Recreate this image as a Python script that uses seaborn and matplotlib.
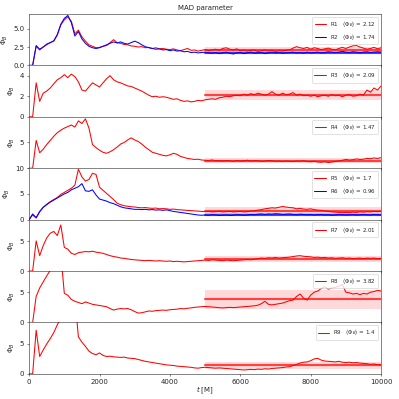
import numpy as np
import matplotlib
matplotlib.use("Agg")
import matplotlib.pyplot as plt
from matplotlib.lines import Line2D
import seaborn as sns

# time grid [M]
T = [0, 100, 200, 300, 400, 500, 600, 700, 800, 900,
     1000, 1100, 1200, 1300, 1400, 1500, 1600, 1700, 1800, 1900,
     2000, 2100, 2200, 2300, 2400, 2500, 2600, 2700, 2800, 2900,
     3000, 3100, 3200, 3300, 3400, 3500, 3600, 3700, 3800, 3900,
     4000, 4100, 4200, 4300, 4400, 4500, 4600, 4700, 4800, 4900,
     5000, 5100, 5200, 5300, 5400, 5500, 5600, 5700, 5800, 5900,
     6000, 6100, 6200, 6300, 6400, 6500, 6600, 6700, 6800, 6900,
     7000, 7100, 7200, 7300, 7400, 7500, 7600, 7700, 7800, 7900,
     8000, 8100, 8200, 8300, 8400, 8500, 8600, 8700, 8800, 8900,
     9000, 9100, 9200, 9300, 9400, 9500, 9600, 9700, 9800, 9900, 10000]

R1 = [0, 0, 2.6, 2.1, 2.5, 2.8, 3.1, 3.3, 4.1, 5.5,
      6.2, 6.6, 6.0, 4.3, 4.8, 3.9, 3.3, 2.8, 2.6, 2.4,
      2.45, 2.6, 2.7, 3.1, 3.5, 3.1, 3.0, 2.85, 2.8, 2.65,
      2.6, 2.5, 2.55, 2.4, 2.45, 2.3, 2.4, 2.25, 2.3, 2.2,
      2.15, 2.25, 2.1, 2.0, 2.15, 2.3, 2.05, 2.1, 1.95, 2.05,
      2.15, 2.0, 2.1, 2.2, 2.05, 2.3, 2.4, 2.2, 2.1, 2.25,
      2.0, 2.1, 1.95, 2.05, 2.1, 1.9, 2.0, 2.1, 1.95, 2.05,
      1.9, 2.0, 1.95, 2.05, 2.1, 2.35, 2.55, 2.4, 2.3, 2.45,
      2.2, 2.4, 2.3, 2.15, 2.25, 2.35, 2.2, 2.1, 2.3, 2.45,
      2.3, 2.5, 2.65, 2.7, 2.5, 2.35, 2.2, 2.3, 2.45, 2.25, 2.4]

R2 = [0, 0, 2.7, 2.2, 2.5, 2.9, 3.1, 3.35, 4.2, 5.6,
      6.4, 6.8, 5.8, 4.0, 4.6, 3.6, 3.0, 2.6, 2.4, 2.3,
      2.4, 2.6, 2.8, 3.0, 3.2, 3.05, 3.2, 3.0, 2.9, 3.1,
      3.3, 3.1, 2.8, 2.55, 2.4, 2.3, 2.2, 2.25, 2.1, 2.15,
      2.0, 2.1, 1.95, 2.0, 1.85, 1.9, 1.75, 1.8, 1.7, 1.75,
      1.8, 1.7, 1.65, 1.75, 1.6, 1.7, 1.8, 1.65, 1.55, 1.7,
      1.75, 1.6, 1.7, 1.8, 1.65, 1.7, 1.75, 1.6, 1.7, 1.8,
      1.7, 1.75, 1.65, 1.7, 1.75, 1.8, 1.7, 1.75, 1.65, 1.8,
      1.7, 1.75, 1.8, 1.7, 1.75, 1.85, 1.8, 1.75, 1.8, 1.9,
      1.8, 1.75, 1.85, 1.8, 1.7, 1.8, 1.85, 1.75, 1.8, 1.85, 1.8]

R3 = [0, 0, 3.3, 1.5, 2.3, 2.5, 2.8, 3.2, 3.6, 3.8,
      4.1, 3.8, 4.15, 3.9, 3.4, 2.6, 2.5, 2.9, 3.3, 3.1,
      2.9, 3.3, 3.7, 4.0, 3.6, 3.4, 3.3, 3.15, 3.0, 2.95,
      2.8, 2.65, 2.5, 2.3, 2.1, 1.95, 2.0, 1.9, 1.95, 1.9,
      1.8, 1.7, 1.75, 1.6, 1.5, 1.55, 1.45, 1.5, 1.6, 1.55,
      1.65, 1.7, 1.75, 1.7, 1.85, 1.9, 2.0, 1.95, 2.05, 2.1,
      2.05, 2.2, 2.1, 2.25, 2.15, 2.3, 2.2, 2.1, 2.2, 2.45,
      2.2, 2.1, 2.3, 2.15, 2.2, 2.35, 2.1, 2.2, 2.05, 2.1,
      2.0, 2.1, 1.95, 2.05, 2.1, 2.0, 2.15, 2.05, 2.1, 1.95,
      2.1, 2.15, 2.0, 2.05, 2.2, 2.1, 2.6, 2.4, 2.8, 2.6, 3.0]

R4 = [0, 0, 5.4, 3.0, 3.7, 4.6, 5.4, 6.2, 6.9, 7.4,
      7.8, 8.1, 8.4, 8.0, 9.2, 8.7, 9.6, 7.8, 4.6, 4.0,
      3.5, 3.1, 2.9, 3.2, 3.6, 4.1, 4.7, 5.0, 5.5, 5.9,
      5.5, 5.2, 4.7, 4.1, 3.6, 3.1, 2.9, 2.7, 2.5, 2.4,
      2.6, 2.9, 2.7, 2.3, 2.1, 1.9, 1.8, 1.7, 1.75, 1.6,
      1.55, 1.5, 1.6, 1.45, 1.5, 1.4, 1.5, 1.45, 1.35, 1.5,
      1.4, 1.45, 1.55, 1.4, 1.5, 1.45, 1.35, 1.4, 1.5, 1.45,
      1.35, 1.4, 1.3, 1.4, 1.35, 1.3, 1.4, 1.35, 1.45, 1.3,
      1.25, 1.35, 1.2, 1.15, 1.25, 1.1, 1.2, 1.3, 1.4, 1.55,
      1.7, 1.6, 1.65, 1.8, 1.7, 1.75, 1.9, 1.85, 2.0, 1.9, 2.05]

R5 = [0, 0.9, 0.3, 1.5, 2.4, 3.0, 3.5, 3.9, 4.3, 4.9,
      5.3, 5.7, 6.1, 6.7, 9.8, 8.3, 7.5, 7.8, 9.0, 8.8,
      6.3, 5.7, 5.1, 4.5, 3.9, 3.2, 2.9, 2.7, 2.6, 2.5,
      2.45, 2.35, 2.3, 2.35, 2.25, 2.2, 2.25, 2.1, 2.15, 2.1,
      2.0, 2.05, 1.95, 1.9, 1.85, 1.8, 1.75, 1.7, 1.65, 1.6,
      1.55, 1.6, 1.5, 1.55, 1.6, 1.5, 1.55, 1.6, 1.5, 1.55,
      1.6, 1.5, 1.55, 1.65, 1.7, 1.85, 1.95, 2.1, 2.2, 2.3,
      2.25, 2.4, 2.55, 2.45, 2.35, 2.3, 2.1, 2.2, 2.05, 2.0,
      2.1, 1.95, 1.85, 1.8, 1.7, 1.6, 1.5, 1.45, 1.4, 1.35,
      1.4, 1.35, 1.45, 1.4, 1.5, 1.45, 1.55, 1.5, 1.6, 1.55, 1.6]

R6 = [0, 1.1, 0.4, 1.6, 2.4, 2.9, 3.4, 3.8, 4.2, 4.6,
      5.0, 5.3, 5.8, 6.1, 6.4, 7.0, 5.6, 5.5, 5.8, 4.8,
      4.0, 3.8, 3.6, 3.3, 3.1, 2.8, 2.5, 2.3, 2.2, 2.1,
      2.0, 2.0, 1.95, 2.0, 1.9, 1.95, 1.85, 1.9, 1.8, 1.9,
      1.75, 1.6, 1.5, 1.4, 1.3, 1.2, 1.1, 1.0, 0.9, 0.85,
      0.9, 0.85, 0.95, 0.9, 0.8, 0.85, 0.9, 0.8, 0.85, 0.95,
      0.9, 0.85, 0.9, 1.0, 0.95, 1.05, 1.1, 1.0, 1.1, 1.05,
      1.15, 1.1, 1.0, 1.05, 1.1, 1.0, 0.95, 1.05, 1.0, 0.95,
      1.0, 0.9, 0.95, 1.0, 0.9, 0.95, 0.85, 0.9, 1.0, 0.95,
      0.9, 0.95, 1.0, 0.9, 0.95, 1.0, 0.95, 0.9, 1.0, 0.95, 0.9]

R7 = [0, 0, 5.1, 2.6, 4.3, 5.6, 6.4, 6.7, 6.0, 7.8,
      4.0, 3.7, 3.0, 2.8, 3.1, 3.2, 3.3, 3.25, 3.35, 3.2,
      3.1, 3.0, 2.8, 2.6, 2.45, 2.35, 2.2, 2.15, 2.05, 1.95,
      1.9, 1.85, 1.8, 1.75, 1.8, 1.75, 1.7, 1.75, 1.7, 1.65,
      1.7, 1.6, 1.65, 1.6, 1.55, 1.6, 1.65, 1.7, 1.75, 1.8,
      1.85, 1.8, 1.9, 1.85, 1.8, 1.75, 1.85, 1.8, 1.75, 1.8,
      1.85, 1.9, 1.95, 1.9, 2.0, 2.1, 2.2, 2.15, 2.25, 2.2,
      2.3, 2.2, 2.25, 2.3, 2.35, 2.45, 2.55, 2.6, 2.5, 2.45,
      2.4, 2.3, 2.35, 2.25, 2.3, 2.2, 2.25, 2.15, 2.2, 2.25,
      2.15, 2.2, 2.1, 2.15, 2.2, 2.1, 2.2, 2.15, 2.2, 2.1, 2.15]

R8 = [0, 0, 4.3, 5.7, 6.7, 7.7, 8.6, 9.6, 10.5, 11.3,
      4.8, 4.5, 3.8, 3.5, 3.3, 3.1, 3.4, 3.2, 3.0, 2.9,
      2.8, 2.7, 2.6, 2.3, 2.05, 2.2, 2.3, 2.25, 2.3, 2.1,
      1.8, 1.55, 1.6, 1.75, 1.9, 1.85, 1.95, 2.0, 2.05, 2.0,
      2.1, 2.15, 2.2, 2.3, 2.25, 2.35, 2.4, 2.5, 2.55, 2.6,
      2.65, 2.6, 2.55, 2.5, 2.45, 2.4, 2.45, 2.5, 2.45, 2.5,
      2.55, 2.6, 2.65, 2.7, 2.75, 2.85, 3.1, 3.5, 3.0, 2.9,
      3.0, 3.1, 3.2, 3.4, 3.6, 3.7, 4.3, 4.7, 4.0, 3.7,
      4.5, 5.0, 5.2, 5.6, 5.9, 5.5, 5.7, 5.8, 6.0, 6.3,
      5.0, 4.9, 4.7, 4.8, 4.6, 4.8, 4.7, 5.0, 5.1, 5.3, 5.2]

R9 = [0, 0, 7.3, 2.9, 4.0, 5.0, 5.9, 6.9, 8.2, 9.3,
      10.3, 11.2, 12.0, 12.6, 6.2, 5.3, 4.6, 3.8, 3.4, 3.2,
      3.5, 3.1, 2.9, 2.95, 2.85, 2.8, 2.75, 2.8, 2.65, 2.6,
      2.55, 2.4, 2.25, 2.1, 2.0, 1.9, 1.8, 1.7, 1.6, 1.5,
      1.45, 1.4, 1.3, 1.25, 1.2, 1.15, 1.1, 1.0, 0.95, 1.05,
      1.1, 1.05, 1.0, 0.95, 1.0, 0.95, 0.9, 0.85, 0.8, 0.75,
      0.7, 0.65, 0.7, 0.75, 0.7, 0.8, 0.75, 0.85, 0.8, 0.9,
      0.95, 1.0, 1.05, 1.15, 1.2, 1.4, 1.6, 1.8, 1.95, 2.0,
      2.2, 2.5, 2.6, 2.3, 2.15, 2.1, 2.05, 2.0, 2.1, 1.95,
      1.9, 1.95, 1.85, 1.9, 1.8, 1.75, 1.7, 1.6, 1.65, 1.55, 1.5]

NAMES = ["R1", "R2", "R3", "R4", "R5", "R6", "R7", "R8", "R9"]
SERIES = [R1, R2, R3, R4, R5, R6, R7, R8, R9]
MEANS = [2.12, 1.74, 2.09, 1.47, 1.7, 0.96, 2.01, 3.82, 1.4]
SPREAD = [0.45, 0.25, 0.5, 0.5, 0.7, 0.3, 0.45, 1.6, 0.6]
COLORS = ["red", "blue", "red", "red", "red", "blue", "red", "red", "red"]
PANEL_OF = [0, 0, 1, 2, 3, 3, 4, 5, 6]
AVG_START = 5000

YMAX = [7, 5, 10, 10, 8.7, 8.5, 8.6]
YTICKS = [[0, 2.5, 5], [0, 2, 4], [0, 5], [0, 5, 10], [0, 5], [0, 5], [0, 5]]
YTICKLABELS = [["0.0", "2.5", "5.0"], ["0", "2", "4"], ["", "5"], ["0", "5", "10"],
               ["0", "5"], ["0", "5"], ["0", "5"]]


def main():
    sns.set_style("ticks")
    fig, axes = plt.subplots(7, 1, sharex=True, figsize=(7.98, 7.98), dpi=50)
    fig.subplots_adjust(left=0.073, right=0.955, top=0.965, bottom=0.063, hspace=0)

    handles = {i: [] for i in range(len(axes))}
    for name, y, m, s, c, p in zip(NAMES, SERIES, MEANS, SPREAD, COLORS, PANEL_OF):
        ax = axes[p]
        label = name + r"   $\langle\Phi_B\rangle$ = " + str(m)
        sns.lineplot(x=T, y=y, ax=ax, color=c, lw=1.5, legend=False)
        ax.plot([AVG_START, T[-1]], [m, m], color=c, lw=3, alpha=0.7)
        ax.fill_between([AVG_START, T[-1]], m - s, m + s, color=c, alpha=0.15, lw=0)
        handles[p].append(Line2D([], [], color=c, lw=1.5, label=label))

    for i, ax in enumerate(axes):
        ax.set_ylim(0, YMAX[i])
        ax.set_yticks(YTICKS[i], YTICKLABELS[i])
        ax.set_ylabel(r"$\Phi_B$")
        ax.legend(handles=handles[i], loc="upper right", fontsize=8)
        ax.set_xlim(0, 10000)

    axes[0].set_title("MAD parameter", fontsize=10)
    axes[-1].set_xlabel(r"$t$ [M]", labelpad=0)
    axes[-1].set_xticks([0, 2000, 4000, 6000, 8000, 10000])

    fig.savefig("out.png", dpi=50)


if __name__ == "__main__":
    main()
